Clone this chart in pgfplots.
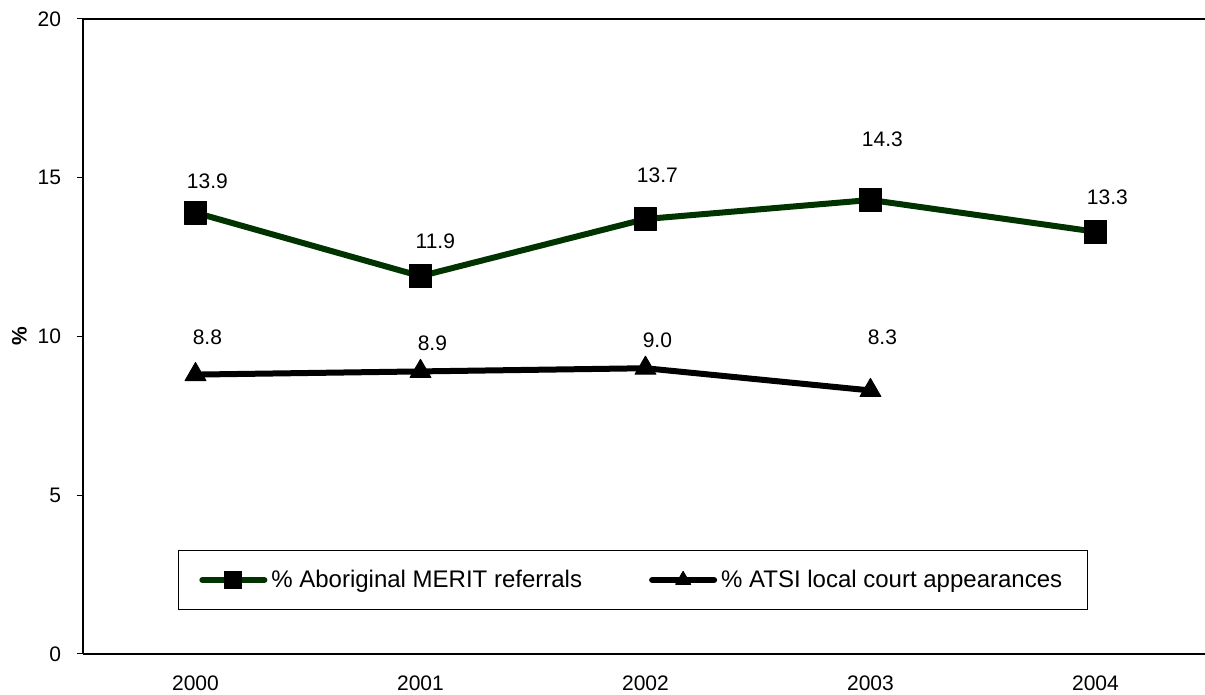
\documentclass[border=0pt]{standalone}
\usepackage{pgfplots}
\pgfplotsset{compat=1.18}
\usepackage{fontspec}
\setmainfont{Liberation Sans}
\definecolor{merit}{RGB}{0,51,0}
\begin{document}
\begin{tikzpicture}
\begin{axis}[
  scale only axis,
  width=561pt, height=317.5pt,
  xmin=-0.5, xmax=4.487,
  ymin=0, ymax=20,
  axis x line*=bottom, axis y line*=left,
  axis line style={line width=1pt, black},
  xtick={0,1,2,3,4},
  xticklabels={2000,2001,2002,2003,2004},
  ytick={0,5,10,15,20},
  x tick style={draw=none},
  y tick style={black, line width=0.5pt},
  tick align=outside,
  major tick length=3pt,
  /pgf/number format/assume math mode=true,
  tick label style={font=\fontsize{10.5}{12}\selectfont},
  xticklabel style={yshift=-4.25pt},
  yticklabel style={xshift=-4.5pt},
  ylabel={\%},
  ylabel style={font=\bfseries\fontsize{10.5}{12}\selectfont, at={(axis description cs:-0.0566,0.5)}, anchor=center},
  legend columns=2,
  legend style={at={(axis description cs:0.490,0.1165)}, anchor=center, draw=black, line width=0.5pt,
    font=\fontsize{12}{14}\selectfont, inner xsep=10.5pt, inner ysep=7.5pt,
    /tikz/every even column/.append style={column sep=31.5pt}},
  legend image code/.code={\draw[mark repeat=2,mark phase=2,#1,mark size=4.3pt] plot coordinates {(0pt,0pt) (15.5pt,0pt) (31pt,0pt)};},
]
\addplot[merit, line width=3pt, line cap=round, line join=round, mark=square*, mark size=5.7pt,
  mark options={solid, fill=black, draw=black, line width=0.5pt}]
  coordinates {(0,13.9) (1,11.9) (2,13.7) (3,14.3) (4,13.3)};
\addlegendentry{\% Aboriginal MERIT referrals}
\addplot[black, line width=3pt, line cap=round, line join=round, mark=triangle*, mark size=6pt,
  mark options={solid, fill=black, draw=black, line width=0.5pt}]
  coordinates {(0,8.8) (1,8.9) (2,9.0) (3,8.3)};
\addlegendentry{\% ATSI local court appearances}
\draw[line width=1pt, black] (rel axis cs:0,1) -- (rel axis cs:1,1);
\coordinate (O) at (rel axis cs:0,0);
\coordinate (T) at (rel axis cs:1,1);
\begin{scope}[font=\fontsize{10.5}{12}\selectfont]
\node at (axis cs:0.053,14.90) {13.9};
\node at (axis cs:1.066,13.01) {11.9};
\node at (axis cs:2.053,15.09) {13.7};
\node at (axis cs:3.053,16.22) {14.3};
\node at (axis cs:4.053,14.39) {13.3};
\node at (axis cs:0.053,9.98) {8.8};
\node at (axis cs:1.053,9.80) {8.9};
\node at (axis cs:2.053,9.89) {9.0};
\node at (axis cs:3.053,9.98) {8.3};
\end{scope}
\end{axis}
\pgfresetboundingbox
\useasboundingbox ([xshift=-41.5pt,yshift=-20.5pt]O) rectangle ([yshift=9.5pt]T);
\end{tikzpicture}
\end{document}
